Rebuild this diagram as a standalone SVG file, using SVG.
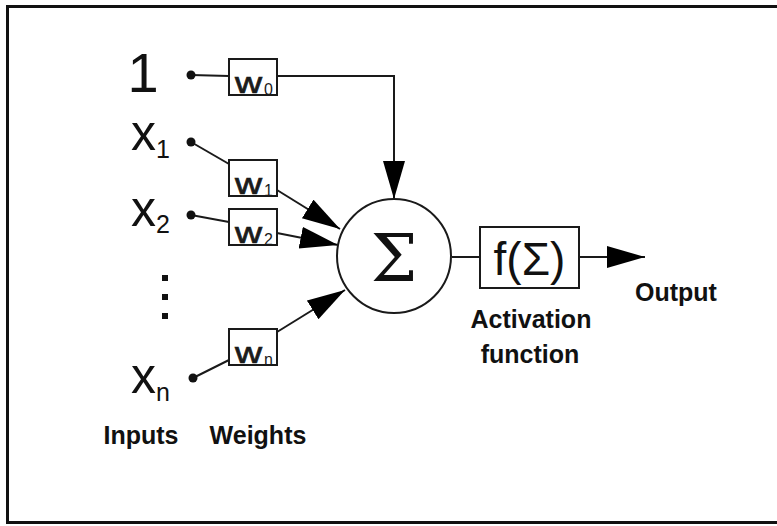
<svg xmlns="http://www.w3.org/2000/svg" width="777" height="526" viewBox="0 0 777 526">
<style>
.ln{stroke:#1a1a1a;stroke-width:2;fill:none}
.box{stroke:#1a1a1a;stroke-width:2;fill:#fff}
.dot{fill:#111}
.big{font-family:"Liberation Sans",Arial,sans-serif;fill:#111}
.wt{font-family:"Liberation Sans",Arial,sans-serif;fill:#1a1a1a}
.w{stroke:#1a1a1a;stroke-width:0.7}
.lbl{font-family:"Liberation Sans",Arial,sans-serif;font-weight:bold;font-size:25px;fill:#111}
</style>
<defs>
<marker id="ah" markerUnits="userSpaceOnUse" markerWidth="40" markerHeight="24" refX="38" refY="11" orient="auto">
<path d="M0,0 L38,11 L0,22 z" fill="#000"/>
</marker>
</defs>
<rect x="7.5" y="6.5" width="780" height="516" fill="#fff" stroke="#111" stroke-width="3"/>

<g id="connectors">
<line class="ln" x1="191" y1="75" x2="229" y2="76"/>
<path class="ln" d="M277,76 H394 V199" marker-end="url(#ah)"/>
<line class="ln" x1="191" y1="142" x2="229" y2="164"/>
<line class="ln" x1="277" y1="190" x2="340" y2="229" marker-end="url(#ah)"/>
<line class="ln" x1="191" y1="215" x2="229" y2="222"/>
<line class="ln" x1="277" y1="233" x2="338" y2="245" marker-end="url(#ah)"/>
<line class="ln" x1="193" y1="378" x2="229" y2="360"/>
<line class="ln" x1="277" y1="332" x2="345" y2="290" marker-end="url(#ah)"/>
<line class="ln" x1="452" y1="257" x2="480" y2="257"/>
<line class="ln" x1="579" y1="257" x2="645" y2="257" marker-end="url(#ah)"/>
</g>

<g id="input-1">
<text class="big" x="143" y="92" font-size="56" text-anchor="middle">1</text>
<circle class="dot" cx="191" cy="75" r="4.5"/>
</g>
<g id="input-x1">
<text class="big" x="131" y="150" font-size="50">x<tspan font-size="25" dy="8">1</tspan></text>
<circle class="dot" cx="191" cy="142" r="4.5"/>
</g>
<g id="input-x2">
<text class="big" x="131" y="226" font-size="50">x<tspan font-size="25" dy="7">2</tspan></text>
<circle class="dot" cx="191" cy="215" r="4.5"/>
</g>
<g id="input-dots">
<rect x="162" y="275" width="6" height="6" fill="#111"/>
<rect x="162" y="294" width="6" height="6" fill="#111"/>
<rect x="162" y="313" width="6" height="6" fill="#111"/>
</g>
<g id="input-xn">
<text class="big" x="131" y="393" font-size="50">x<tspan font-size="25" dy="8">n</tspan></text>
<circle class="dot" cx="193" cy="378" r="4.5"/>
</g>

<g id="w0">
<rect class="box" x="229" y="59" width="48" height="36"/>
<text class="wt w" transform="translate(235,93) scale(1.25,1)" font-size="30">w</text>
<text class="wt" x="264" y="95" font-size="16">0</text>
</g>
<g id="w1">
<rect class="box" x="229" y="160" width="48" height="36"/>
<text class="wt w" transform="translate(235,194) scale(1.25,1)" font-size="30">w</text>
<text class="wt" x="264" y="196" font-size="16">1</text>
</g>
<g id="w2">
<rect class="box" x="229" y="209" width="48" height="36"/>
<text class="wt w" transform="translate(235,243) scale(1.25,1)" font-size="30">w</text>
<text class="wt" x="264" y="245" font-size="16">2</text>
</g>
<g id="wn">
<rect class="box" x="229" y="329" width="48" height="36"/>
<text class="wt w" transform="translate(235,363) scale(1.25,1)" font-size="30">w</text>
<text class="wt" x="264" y="365" font-size="16">n</text>
</g>

<g id="sum">
<circle cx="394" cy="256" r="57" fill="#fff" stroke="#1a1a1a" stroke-width="2"/>
<text x="394" y="281" font-family="'DejaVu Serif','Liberation Serif',serif" font-size="66" text-anchor="middle" fill="#111">Σ</text>
</g>

<g id="activation">
<rect class="box" x="480" y="227" width="99" height="61" stroke-width="2.5"/>
<text class="big" x="529.5" y="275" font-size="46" text-anchor="middle">f(Σ)</text>
</g>

<g id="labels">
<text class="lbl" x="676" y="301" text-anchor="middle">Output</text>
<text class="lbl" x="531" y="328" text-anchor="middle">Activation</text>
<text class="lbl" x="530" y="363" text-anchor="middle">function</text>
<text class="lbl" x="141" y="444" text-anchor="middle">Inputs</text>
<text class="lbl" x="258" y="444" text-anchor="middle">Weights</text>
</g>
</svg>
